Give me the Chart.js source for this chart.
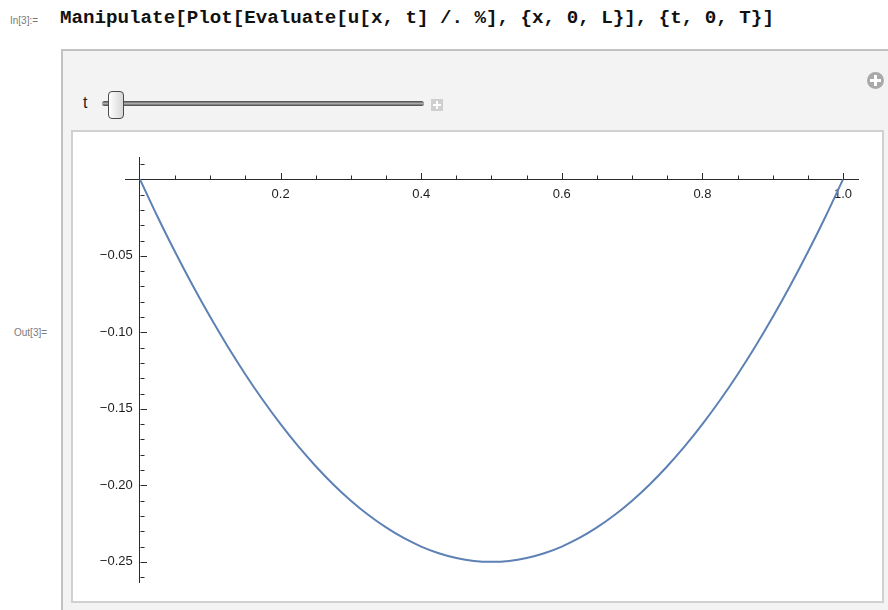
<!DOCTYPE html>
<html>
<head>
<meta charset="utf-8">
<script src="https://cdn.jsdelivr.net/npm/chart.js@4.4.0/dist/chart.umd.min.js"></script>
<style>
  html, body { margin:0; padding:0; background:#ffffff; }
  body { width:888px; height:610px; overflow:hidden; position:relative; font-family:"Liberation Sans", Arial, sans-serif; }
  .abs { position:absolute; }
  #inlbl { left:10px; top:15px; font-size:10px; color:#7a7a7a; }
  #code { left:60px; top:7px; font-family:"Liberation Mono", "Courier New", monospace; font-weight:bold; font-size:19.2px; color:#111; white-space:pre; }
  #outer { left:61px; top:49px; width:900px; height:600px; background:#f3f3f3; border:2px solid #c2c2c2; box-sizing:border-box; }
  #inner { left:71px; top:130px; width:813px; height:473px; background:#ffffff; border:2px solid #d0d0d0; box-sizing:border-box; }
  #tlbl { left:83px; top:94px; font-size:16px; color:#222; }
  #track { left:102px; top:101px; width:322px; height:5px; border-radius:3px; background:linear-gradient(#444,#aaa 50%,#444); }
  #thumb { left:108px; top:91px; width:16px; height:28px; border:1.5px solid #4a4a4a; border-radius:4px; background:linear-gradient(to right,#ffffff,#d6d6d6); box-sizing:border-box; }
  #pbox { left:431px; top:99px; width:12px; height:12px; background:#cfcfcf; }
  #pbox:before { content:""; position:absolute; left:5px; top:2px; width:2px; height:8px; background:#fff; }
  #pbox:after { content:""; position:absolute; left:2px; top:5px; width:8px; height:2px; background:#fff; }
  #cplus { left:867px; top:72px; width:17px; height:17px; border-radius:50%; background:#a9a9a9; }
  #cplus:before { content:""; position:absolute; left:7px; top:3px; width:3px; height:11px; background:#fff; }
  #cplus:after { content:""; position:absolute; left:3px; top:7px; width:11px; height:3px; background:#fff; }
  #outlbl { left:14px; top:327px; font-size:10px; color:#7a7a7a; }
  #chart { left:73px; top:132px; }
</style>
</head>
<body>
<div id="inlbl" class="abs">In[3]:=</div>
<div id="code" class="abs">Manipulate[Plot[Evaluate[u[x, t] /. %], {x, 0, L}], {t, 0, T}]</div>
<div id="outer" class="abs"></div>
<div id="cplus" class="abs"></div>
<div id="tlbl" class="abs">t</div>
<div id="track" class="abs"></div>
<div id="thumb" class="abs"></div>
<div id="pbox" class="abs"></div>
<div id="inner" class="abs"></div>
<div id="outlbl" class="abs">Out[3]=</div>
<canvas id="chart" class="abs" width="809" height="469"></canvas>
<script>
// ---- data ----
const xValues = [0,0.025,0.05,0.075,0.1,0.125,0.15,0.175,0.2,0.225,0.25,0.275,0.3,0.325,0.35,0.375,0.4,0.425,0.45,0.475,0.5,
                 0.525,0.55,0.575,0.6,0.625,0.65,0.675,0.7,0.725,0.75,0.775,0.8,0.825,0.85,0.875,0.9,0.925,0.95,0.975,1];
const uValues = [0,-0.0244,-0.0475,-0.0694,-0.09,-0.1094,-0.1275,-0.1444,-0.16,-0.1744,-0.1875,-0.1994,-0.21,-0.2194,-0.2275,-0.2344,-0.24,-0.2444,-0.2475,-0.2494,-0.25,
                 -0.2494,-0.2475,-0.2444,-0.24,-0.2344,-0.2275,-0.2194,-0.21,-0.1994,-0.1875,-0.1744,-0.16,-0.1444,-0.1275,-0.1094,-0.09,-0.0694,-0.0475,-0.0244,0];
const xTickValues = [0.2,0.4,0.6,0.8,1.0];
const xTickLabels = ['0.2','0.4','0.6','0.8','1.0'];
const yTickValues = [-0.05,-0.10,-0.15,-0.20,-0.25];
const yTickLabels = ['\u22120.05','\u22120.10','\u22120.15','\u22120.20','\u22120.25'];
const xMinorTicks = [0.05,0.1,0.15,0.25,0.3,0.35,0.45,0.5,0.55,0.65,0.7,0.75,0.85,0.9,0.95];
const yMinorTicks = [0.01,-0.01,-0.02,-0.03,-0.04,-0.06,-0.07,-0.08,-0.09,-0.11,-0.12,-0.13,-0.14,-0.16,-0.17,-0.18,-0.19,-0.21,-0.22,-0.23,-0.24,-0.26];

const points = xValues.map((x, i) => ({ x: x, y: uValues[i] }));

const tickPlugin = {
  id: 'mmaTicks',
  afterDraw(chart) {
    const ctx = chart.ctx, xs = chart.scales.x, ys = chart.scales.y;
    const x0 = Math.round(xs.getPixelForValue(0)) + 0.5;
    const y0 = Math.round(ys.getPixelForValue(0)) + 0.5;
    ctx.save();
    ctx.strokeStyle = '#2a2a2a';
    ctx.lineWidth = 1;
    ctx.beginPath();
    xMinorTicks.forEach(v => { const p = Math.round(xs.getPixelForValue(v)) + 0.5; ctx.moveTo(p, y0); ctx.lineTo(p, y0 - 4); });
    xTickValues.forEach(v => { const p = Math.round(xs.getPixelForValue(v)) + 0.5; ctx.moveTo(p, y0); ctx.lineTo(p, y0 - 6.5); });
    yMinorTicks.forEach(v => { const p = Math.round(ys.getPixelForValue(v)) + 0.5; ctx.moveTo(x0, p); ctx.lineTo(x0 + 4, p); });
    yTickValues.forEach(v => { const p = Math.round(ys.getPixelForValue(v)) + 0.5; ctx.moveTo(x0, p); ctx.lineTo(x0 + 6.5, p); });
    ctx.stroke();
    ctx.restore();
  }
};

new Chart(document.getElementById('chart'), {
  type: 'scatter',
  data: {
    datasets: [{
      data: points,
      showLine: true,
      borderColor: '#5E81B5',
      borderWidth: 2,
      pointRadius: 0,
      tension: 0.3,
      fill: false
    }]
  },
  options: {
    responsive: false,
    animation: false,
    events: [],
    layout: { padding: { left: 52, right: 24, top: 25.5, bottom: 18.5 } },
    plugins: { legend: { display: false }, tooltip: { enabled: false } },
    scales: {
      x: {
        type: 'linear',
        min: -0.0213, max: 1.0213,
        position: { y: 0 },
        afterFit(s) { s.height = 0; },
        afterBuildTicks(s) { s.ticks = xTickValues.map(v => ({ value: v })); },
        grid: { display: true, drawOnChartArea: false, drawTicks: false },
        border: { display: true, color: '#2a2a2a', width: 1 },
        ticks: {
          autoSkip: false, maxRotation: 0, padding: 7,
          color: '#1e1e1e', font: { family: 'Liberation Sans', size: 13 },
          callback: (v, i) => xTickLabels[i]
        }
      },
      y: {
        type: 'linear',
        min: -0.2635, max: 0.0143,
        position: { x: 0 },
        afterFit(s) { s.width = 0; },
        afterBuildTicks(s) { s.ticks = yTickValues.map(v => ({ value: v })); },
        grid: { display: true, drawOnChartArea: false, drawTicks: false },
        border: { display: true, color: '#2a2a2a', width: 1 },
        ticks: {
          autoSkip: false, padding: 5,
          color: '#1e1e1e', font: { family: 'Liberation Sans', size: 13 },
          callback: (v, i) => yTickLabels[i] + '\u0020\u0020'
        }
      }
    }
  },
  plugins: [tickPlugin]
});
</script>
</body>
</html>
